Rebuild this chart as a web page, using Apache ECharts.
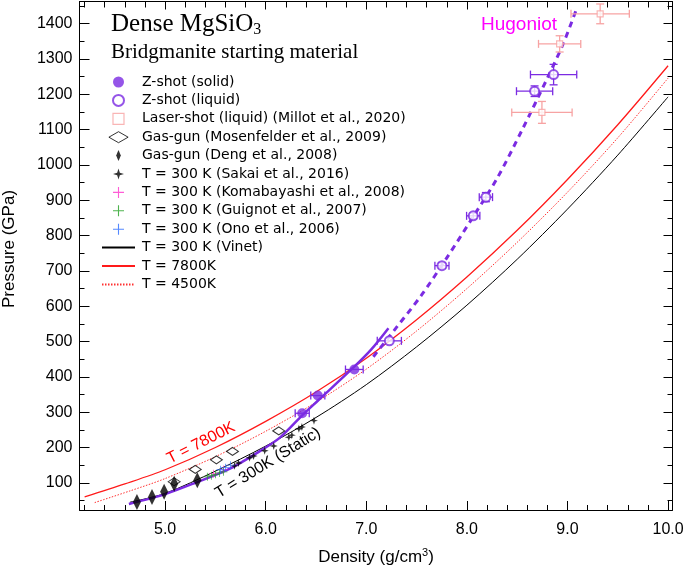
<!DOCTYPE html>
<html>
<head>
<meta charset="utf-8">
<script src="https://cdn.jsdelivr.net/npm/echarts@6/dist/echarts.min.js"></script>
<style>html,body{margin:0;padding:0;background:#fff}#c{width:685px;height:575px}</style>
</head>
<body>
<div id="c"></div>
<script>
// ---------------- data ----------------
const xMajorTicks = [5.0, 6.0, 7.0, 8.0, 9.0, 10.0];
const xMinorTicks = [4.2,4.4,4.6,4.8,5.2,5.4,5.6,5.8,6.2,6.4,6.6,6.8,7.2,7.4,7.6,7.8,8.2,8.4,8.6,8.8,9.2,9.4,9.6,9.8];
const yMajorTicks = [100,200,300,400,500,600,700,800,900,1000,1100,1200,1300,1400];
const yMinorTicks = [50,150,250,350,450,550,650,750,850,950,1050,1150,1250,1350,1450];

// Z-shot solid: [density, pressure]
const zSolid = [[6.363,297],[6.518,347],[6.881,421]];
const zSolidXErr = [0.07,0.07,0.088];
const zSolidYErr = [0,0,0];
// Z-shot liquid
const zLiquid = [[7.229,502],[7.752,715],[8.063,856],[8.189,909],[8.673,1209],[8.862,1256]];
const zLiquidXErr = [0.12,0.07,0.066,0.066,0.18,0.23];
const zLiquidYErr = [0,8,8,13,15,29];
// Laser-shot (Millot 2020)
const laser = [[8.746,1149],[8.922,1343],[9.325,1428]];
const laserXErr = [0.30,0.21,0.29];
const laserYErr = [31,23,28];
// Gas-gun Mosenfelder 2009
const mosenfelder = [[5.09,103],[5.30,138],[5.51,165],[5.67,189],[6.13,247]];
// Gas-gun Deng 2008
const deng = [[4.72,46],[4.87,60],[4.99,75],[5.09,97],[5.32,107]];
// Static 300 K
const sakai = [[5.69,148],[5.73,156],[5.84,171],[5.88,176],[5.99,191],[6.08,204],[6.23,229],[6.26,235],[6.33,253],[6.36,258],[6.48,276]];
const komabayashi = [[5.48,126],[5.58,138]];
const guignot = [[5.42,117],[5.46,120],[5.50,124],[5.54,128],[5.58,131]];
const ono = [[5.55,137],[5.60,143],[5.65,150]];
// Curves
const vinet300 = [[4.65,45],[5.0,70],[5.5,133],[6.0,204],[6.5,285],[7.0,378],[7.5,485],[8.0,603],[8.5,733],[9.0,875],[9.5,1028],[10.0,1193]];
const t7800 = [[4.2,60],[4.6,97],[5.0,137],[5.5,200],[6.0,274],[6.5,357],[7.0,453],[7.5,562],[8.0,683],[8.5,815],[9.0,959],[9.5,1114],[10.0,1281]];
const t4500 = [[4.3,44],[4.65,77],[5.0,112],[5.5,174],[6.0,246],[6.5,328],[7.0,422],[7.5,530],[8.0,650],[8.5,781],[9.0,923],[9.5,1077],[10.0,1246]];
const hugSolid = [[4.64,40],[5.0,68],[5.3,100],[5.65,141],[6.0,200],[6.15,230],[6.37,293],[6.52,333],[6.87,426],[7.05,478],[7.22,538]];
const hugDashed = [[7.07,457],[7.30,540],[7.55,632],[7.80,737],[8.05,848],[8.30,962],[8.55,1100],[8.80,1246],[8.96,1345],[9.09,1442]];

// ---------------- styling ----------------
const PURPLE = '#7b2be2';
const PINK = '#f7a3a3';
const SANS = 'Liberation Sans, Arial, Helvetica, sans-serif';
const LEGFONT = 'DejaVu Sans, Verdana, sans-serif';
const SERIF = 'Liberation Serif, Times New Roman, serif';
const X_MIN = 4.149, X_MAX = 10.044, Y_MIN = 23, Y_MAX = 1463;

const starPath = 'path://M5,0L6.2,3.8L10,5L6.2,6.2L5,10L3.8,6.2L0,5L3.8,3.8Z';
const plusPath = 'path://M4.5,0h1v4.5h4.5v1h-4.5v4.5h-1v-4.5h-4.5v-1h4.5z';
const hDiamond = 'path://M0,4L7,0L14,4L7,8Z';
const vDiamond = 'path://M3,0L6,7L3,14L0,7Z';
const squarePath = 'path://M0,0L10,0L10,10L0,10Z';

function withErr(pts, xe, ye) { return pts.map((p, i) => [p[0], p[1], xe[i], ye[i]]); }

function errRender(color, cap, lw) {
  return function (params, api) {
    const x = api.value(0), y = api.value(1), xe = api.value(2), ye = api.value(3);
    const st = { stroke: color, lineWidth: lw };
    const ch = [];
    if (xe > 0) {
      const l = api.coord([x - xe, y]), r = api.coord([x + xe, y]);
      ch.push({ type: 'line', shape: { x1: l[0], y1: l[1], x2: r[0], y2: r[1] }, style: st });
      ch.push({ type: 'line', shape: { x1: l[0], y1: l[1] - cap, x2: l[0], y2: l[1] + cap }, style: st });
      ch.push({ type: 'line', shape: { x1: r[0], y1: r[1] - cap, x2: r[0], y2: r[1] + cap }, style: st });
    }
    if (ye > 0) {
      const b = api.coord([x, y - ye]), t = api.coord([x, y + ye]);
      ch.push({ type: 'line', shape: { x1: b[0], y1: b[1], x2: t[0], y2: t[1] }, style: st });
      ch.push({ type: 'line', shape: { x1: b[0] - cap, y1: b[1], x2: b[0] + cap, y2: b[1] }, style: st });
      ch.push({ type: 'line', shape: { x1: t[0] - cap, y1: t[1], x2: t[0] + cap, y2: t[1] }, style: st });
    }
    return { type: 'group', children: ch };
  };
}

function tickAxis(kind, pos, ticks, len, opts) {
  const base = {
    type: 'value', position: pos, min: kind === 'x' ? X_MIN : Y_MIN, max: kind === 'x' ? X_MAX : Y_MAX,
    splitLine: { show: false },
    axisLine: { show: false, onZero: false },
    axisTick: { show: true, inside: true, length: len, customValues: ticks, lineStyle: { color: '#000', width: 1 } },
    axisLabel: { show: false }
  };
  return Object.assign(base, opts || {});
}

const chart = echarts.init(document.getElementById('c'), null, { renderer: 'canvas' });

const lineLegendItem = name => ({ name, itemStyle: { opacity: 0 } });

const option = {
  animation: false,
  backgroundColor: '#fff',
  grid: { left: 79.5, right: 12.5, top: 1.5, bottom: 65, containLabel: false, outerBoundsMode: 'none' },
  xAxis: [
    tickAxis('x', 'bottom', xMajorTicks, 9, {
      axisLine: { show: true, onZero: false, lineStyle: { color: '#000', width: 1 } },
      axisLabel: { show: true, customValues: xMajorTicks, formatter: v => v.toFixed(1), color: '#000', fontSize: 16, fontFamily: SANS, margin: 12 },
      name: 'Density (g/cm{sup|3})', nameLocation: 'middle', nameGap: 37,
      nameTextStyle: { color: '#000', fontSize: 17, fontFamily: SANS, rich: { sup: { fontSize: 11, fontFamily: SANS, color: '#000', padding: [0, 0, 9, 0] } } }
    }),
    tickAxis('x', 'bottom', xMinorTicks, 5),
    tickAxis('x', 'top', xMajorTicks, 8, { axisLine: { show: true, onZero: false, lineStyle: { color: '#000', width: 1 } } }),
    tickAxis('x', 'top', xMinorTicks, 6)
  ],
  yAxis: [
    tickAxis('y', 'left', yMajorTicks, 10, {
      axisLine: { show: true, onZero: false, lineStyle: { color: '#000', width: 1 } },
      axisLabel: { show: true, customValues: yMajorTicks, formatter: v => String(v), color: '#000', fontSize: 16, fontFamily: SANS, margin: 7 }
    }),
    tickAxis('y', 'left', yMinorTicks, 5),
    tickAxis('y', 'right', yMajorTicks, 9, { axisLine: { show: true, onZero: false, lineStyle: { color: '#000', width: 1 } } }),
    tickAxis('y', 'right', yMinorTicks, 5)
  ],
  legend: {
    left: 101, top: 75, orient: 'vertical', padding: 0, itemGap: 4.4,
    itemWidth: 33, itemHeight: 11, selectedMode: false,
    textStyle: { color: '#000', fontSize: 14, lineHeight: 14, fontFamily: LEGFONT, padding: [0, 0, 0, 2] },
    data: [
      { name: 'Z-shot (solid)' },
      { name: 'Z-shot (liquid)' },
      { name: 'Laser-shot (liquid) (Millot et al., 2020)', itemStyle: { color: '#fff', borderColor: PINK, borderWidth: 1.2 } },
      { name: 'Gas-gun (Mosenfelder et al., 2009)', itemStyle: { color: '#fff', borderColor: '#000', borderWidth: 1 } },
      { name: 'Gas-gun (Deng et al., 2008)' },
      { name: 'T = 300 K (Sakai et al., 2016)' },
      { name: 'T = 300 K (Komabayashi et al., 2008)' },
      { name: 'T = 300 K (Guignot et al., 2007)' },
      { name: 'T = 300 K (Ono et al., 2006)' },
      lineLegendItem('T = 300 K (Vinet)'),
      lineLegendItem('T = 7800K'),
      lineLegendItem('T = 4500K')
    ]
  },
  graphic: [
    { type: 'text', x: 9, y: 249, rotation: Math.PI / 2, style: { text: 'Pressure (GPa)', fontSize: 17, fontFamily: SANS, fill: '#000', align: 'center', verticalAlign: 'middle' } },
    { type: 'text', left: 111, top: 12, style: { text: '{a|Dense MgSiO}{b|3}', rich: { a: { fontSize: 25, fontFamily: SERIF, fill: '#000' }, b: { fontSize: 16, fontFamily: SERIF, fill: '#000', padding: [10, 0, 0, 0] } } } },
    { type: 'text', left: 111, top: 42, style: { text: 'Bridgmanite starting material', fontSize: 21, fontFamily: SERIF, fill: '#000' } },
    { type: 'text', x: 519, y: 25, style: { text: 'Hugoniot', fontSize: 19, fontFamily: SANS, fill: '#ff00ff', align: 'center', verticalAlign: 'middle' } },
    { type: 'text', x: 201, y: 443, rotation: 27 * Math.PI / 180, style: { text: 'T = 7800K', fontSize: 16, fontFamily: SANS, fill: '#ff0000', align: 'center', verticalAlign: 'middle' } },
    { type: 'text', x: 268, y: 463, rotation: 31.6 * Math.PI / 180, style: { text: 'T = 300K (Static)', fontSize: 16, fontFamily: SANS, fill: '#000', align: 'center', verticalAlign: 'middle' } }
  ],
  series: [
    { name: 'T = 300 K (Vinet)', type: 'line', data: vinet300, smooth: 0.3, showSymbol: false, symbol: 'none', lineStyle: { color: '#000', width: 1 }, itemStyle: { color: '#000' }, z: 2 },
    { name: 'T = 7800K', type: 'line', data: t7800, smooth: 0.3, showSymbol: false, symbol: 'none', lineStyle: { color: '#ff1a1a', width: 1.3 }, itemStyle: { color: '#ff1a1a' }, z: 2 },
    { name: 'T = 4500K', type: 'line', data: t4500, smooth: 0.3, showSymbol: false, symbol: 'none', lineStyle: { color: '#ff3030', width: 1, type: [1.5, 1.5] }, itemStyle: { color: '#ff3030' }, z: 2 },
    { name: 'hugSolid', type: 'line', data: hugSolid, smooth: 0.3, showSymbol: false, symbol: 'none', lineStyle: { color: PURPLE, width: 2.5 }, z: 3 },
    { name: 'hugDashed', type: 'line', data: hugDashed, smooth: 0.3, showSymbol: false, symbol: 'none', lineStyle: { color: PURPLE, width: 3, type: [6, 5] }, z: 3 },
    { name: 'errSolid', type: 'custom', data: withErr(zSolid, zSolidXErr, zSolidYErr), renderItem: errRender(PURPLE, 4, 1.3), encode: { x: 0, y: 1 }, silent: true, z: 4 },
    { name: 'errLiquid', type: 'custom', data: withErr(zLiquid, zLiquidXErr, zLiquidYErr), renderItem: errRender(PURPLE, 4, 1.3), encode: { x: 0, y: 1 }, silent: true, z: 4 },
    { name: 'errLaser', type: 'custom', data: withErr(laser, laserXErr, laserYErr), renderItem: errRender(PINK, 4, 1.3), encode: { x: 0, y: 1 }, silent: true, z: 4 },
    { name: 'T = 300 K (Sakai et al., 2016)', type: 'scatter', data: sakai, symbol: starPath, symbolSize: 8, itemStyle: { color: '#000' }, z: 5 },
    { name: 'T = 300 K (Komabayashi et al., 2008)', type: 'scatter', data: komabayashi, symbol: plusPath, symbolSize: 8, itemStyle: { color: '#ff33cc' }, z: 5 },
    { name: 'T = 300 K (Guignot et al., 2007)', type: 'scatter', data: guignot, symbol: plusPath, symbolSize: 8, itemStyle: { color: '#22a022' }, z: 5 },
    { name: 'T = 300 K (Ono et al., 2006)', type: 'scatter', data: ono, symbol: plusPath, symbolSize: 8, itemStyle: { color: '#2a6cff' }, z: 5 },
    { name: 'Gas-gun (Mosenfelder et al., 2009)', type: 'scatter', data: mosenfelder, symbol: hDiamond, symbolSize: [12, 8], itemStyle: { color: '#fff', borderColor: '#000', borderWidth: 1 }, z: 6 },
    { name: 'Gas-gun (Deng et al., 2008)', type: 'scatter', data: deng, symbol: vDiamond, symbolSize: [8, 16], itemStyle: { color: '#000' }, z: 6 },
    { name: 'Z-shot (solid)', type: 'scatter', data: zSolid, symbol: 'circle', symbolSize: 10, itemStyle: { color: PURPLE }, z: 7 },
    { name: 'Z-shot (liquid)', type: 'scatter', data: zLiquid, symbol: 'emptyCircle', symbolSize: 9, itemStyle: { color: PURPLE, borderWidth: 1.3 }, z: 7 },
    { name: 'Laser-shot (liquid) (Millot et al., 2020)', type: 'scatter', data: laser, symbol: squarePath, symbolSize: 6, itemStyle: { color: '#fff', borderColor: PINK, borderWidth: 1.2 }, z: 7 }
  ]
};
chart.setOption(option);
</script>
</body>
</html>
